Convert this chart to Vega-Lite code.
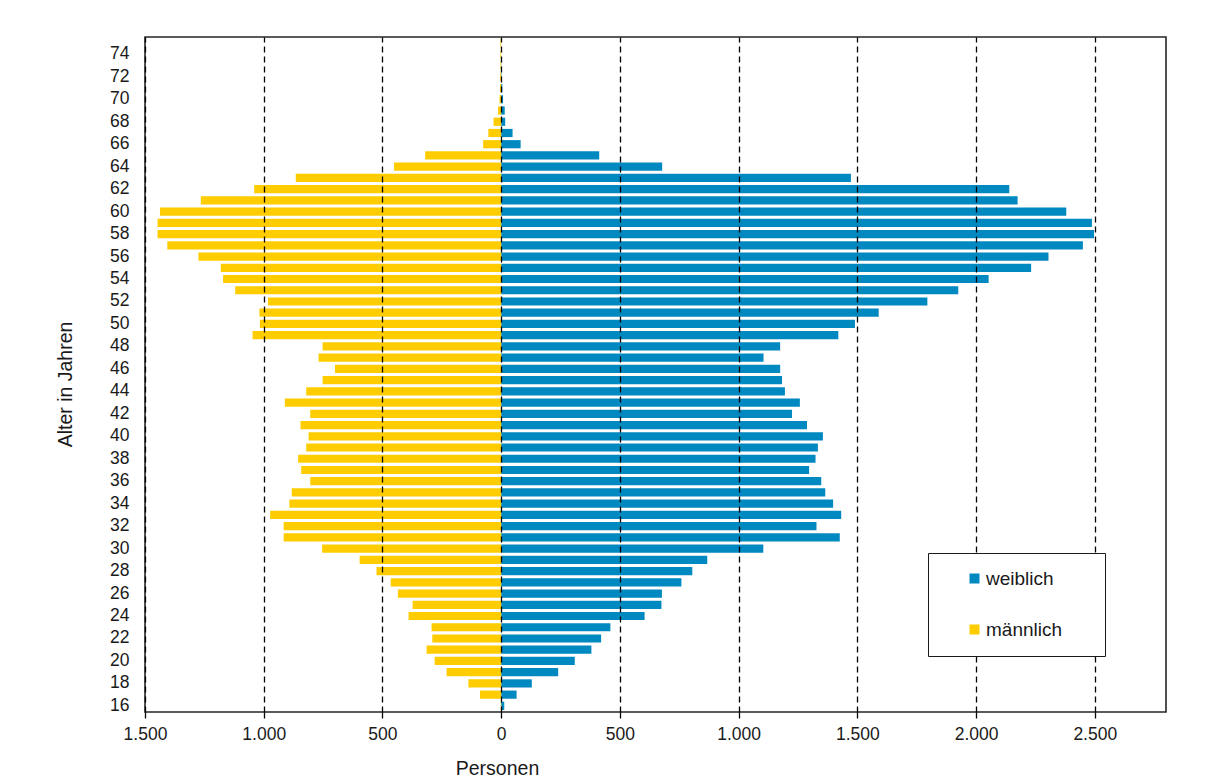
{
  "$schema": "https://vega.github.io/schema/vega-lite/v6.json",
  "width": 1021,
  "height": 675,
  "autosize": {"type": "none"},
  "padding": {"left": 145, "top": 37, "right": 51, "bottom": 70},
  "background": "white",
  "data": {"values": [
    {"Alter": 16, "weiblich": 13, "männlich": -2},
    {"Alter": 17, "weiblich": 65, "männlich": -89},
    {"Alter": 18, "weiblich": 129, "männlich": -138},
    {"Alter": 19, "weiblich": 240, "männlich": -230},
    {"Alter": 20, "weiblich": 310, "männlich": -280},
    {"Alter": 21, "weiblich": 380, "männlich": -314},
    {"Alter": 22, "weiblich": 421, "männlich": -290},
    {"Alter": 23, "weiblich": 460, "männlich": -293},
    {"Alter": 24, "weiblich": 604, "männlich": -390},
    {"Alter": 25, "weiblich": 675, "männlich": -373},
    {"Alter": 26, "weiblich": 677, "männlich": -435},
    {"Alter": 27, "weiblich": 759, "männlich": -465},
    {"Alter": 28, "weiblich": 805, "männlich": -525},
    {"Alter": 29, "weiblich": 868, "männlich": -596},
    {"Alter": 30, "weiblich": 1104, "männlich": -754},
    {"Alter": 31, "weiblich": 1426, "männlich": -916},
    {"Alter": 32, "weiblich": 1328, "männlich": -916},
    {"Alter": 33, "weiblich": 1432, "männlich": -973},
    {"Alter": 34, "weiblich": 1398, "männlich": -892},
    {"Alter": 35, "weiblich": 1365, "männlich": -882},
    {"Alter": 36, "weiblich": 1348, "männlich": -804},
    {"Alter": 37, "weiblich": 1297, "männlich": -842},
    {"Alter": 38, "weiblich": 1324, "männlich": -855},
    {"Alter": 39, "weiblich": 1334, "männlich": -821},
    {"Alter": 40, "weiblich": 1355, "männlich": -811},
    {"Alter": 41, "weiblich": 1288, "männlich": -845},
    {"Alter": 42, "weiblich": 1225, "männlich": -804},
    {"Alter": 43, "weiblich": 1258, "männlich": -911},
    {"Alter": 44, "weiblich": 1195, "männlich": -821},
    {"Alter": 45, "weiblich": 1183, "männlich": -752},
    {"Alter": 46, "weiblich": 1175, "männlich": -700},
    {"Alter": 47, "weiblich": 1105, "männlich": -769},
    {"Alter": 48, "weiblich": 1175, "männlich": -752},
    {"Alter": 49, "weiblich": 1420, "männlich": -1047},
    {"Alter": 50, "weiblich": 1490, "männlich": -1016},
    {"Alter": 51, "weiblich": 1590, "männlich": -1018},
    {"Alter": 52, "weiblich": 1795, "männlich": -982},
    {"Alter": 53, "weiblich": 1925, "männlich": -1120},
    {"Alter": 54, "weiblich": 2053, "männlich": -1171},
    {"Alter": 55, "weiblich": 2232, "männlich": -1181},
    {"Alter": 56, "weiblich": 2305, "männlich": -1275},
    {"Alter": 57, "weiblich": 2450, "männlich": -1406},
    {"Alter": 58, "weiblich": 2497, "männlich": -1447},
    {"Alter": 59, "weiblich": 2488, "männlich": -1447},
    {"Alter": 60, "weiblich": 2380, "männlich": -1437},
    {"Alter": 61, "weiblich": 2175, "männlich": -1265},
    {"Alter": 62, "weiblich": 2140, "männlich": -1040},
    {"Alter": 63, "weiblich": 1473, "männlich": -865},
    {"Alter": 64, "weiblich": 678, "männlich": -451},
    {"Alter": 65, "weiblich": 413, "männlich": -320},
    {"Alter": 66, "weiblich": 82, "männlich": -76},
    {"Alter": 67, "weiblich": 48, "männlich": -54},
    {"Alter": 68, "weiblich": 17, "männlich": -32},
    {"Alter": 69, "weiblich": 15, "männlich": -13},
    {"Alter": 70, "weiblich": 8, "männlich": -7},
    {"Alter": 71, "weiblich": 5, "männlich": -5},
    {"Alter": 72, "weiblich": 2, "männlich": -4},
    {"Alter": 73, "weiblich": 1, "männlich": -3},
    {"Alter": 74, "weiblich": 0, "männlich": -3},
    {"Alter": 75, "weiblich": 0, "männlich": -3}
  ]},
  "transform": [{"fold": ["weiblich", "männlich"], "as": ["Geschlecht", "Personen"]}],
  "mark": {"type": "bar"},
  "encoding": {
    "y": {
      "field": "Alter",
      "type": "ordinal",
      "sort": "descending",
      "scale": {"paddingInner": 0.27, "paddingOuter": 0.18},
      "axis": {
        "title": "Alter in Jahren",
        "labelExpr": "datum.value % 2 == 0 ? datum.label : ''",
        "ticks": false,
        "tickSize": 0,
        "domain": false,
        "grid": false,
        "labelPadding": 16,
        "labelFontSize": 17.5,
        "labelColor": "#1a1a1a",
        "labelFont": "Liberation Sans",
        "titleFont": "Liberation Sans",
        "titleFontSize": 19.5,
        "titleFontWeight": "normal",
        "titleColor": "#1a1a1a",
        "titleX": -80,
        "titleY": 347,
        "titleAngle": -90,
        "titleBaseline": "middle",
        "titleAlign": "center"
      }
    },
    "x": {
      "field": "Personen",
      "type": "quantitative",
      "stack": null,
      "scale": {"domain": [-1500, 2800], "nice": false, "zero": false},
      "axis": {
        "title": "Personen",
        "values": [-1500, -1000, -500, 0, 500, 1000, 1500, 2000, 2500],
        "labelExpr": "replace(format(abs(datum.value), ','), ',', '.')",
        "grid": true,
        "gridColor": "#000000",
        "gridDash": [6, 4],
        "gridWidth": 1.3,
        "gridOpacity": 1,
        "domain": false,
        "tickColor": "#000000",
        "tickSize": 6,
        "tickWidth": 1.3,
        "labelPadding": 7,
        "labelFlush": false,
        "labelOverlap": false,
        "labelFontSize": 17.5,
        "labelColor": "#1a1a1a",
        "labelFont": "Liberation Sans",
        "titleFont": "Liberation Sans",
        "titleFontSize": 19.5,
        "titleFontWeight": "normal",
        "titleColor": "#1a1a1a",
        "titleX": 352,
        "titleY": 56,
        "titleBaseline": "middle",
        "titleAlign": "center",
        "zindex": 1
      }
    },
    "color": {
      "field": "Geschlecht",
      "type": "nominal",
      "scale": {"domain": ["weiblich", "männlich"], "range": ["#0088C1", "#FFCC00"]},
      "legend": {
        "title": null,
        "orient": "none",
        "legendX": 783,
        "legendY": 516,
        "padding": 16,
        "rowPadding": 31,
        "symbolType": "square",
        "symbolSize": 100,
        "symbolOffset": 21,
        "symbolStrokeWidth": 0,
        "labelOffset": 2,
        "labelFontSize": 19,
        "labelFont": "Liberation Sans",
        "labelColor": "#1a1a1a",
        "strokeColor": "#1a1a1a",
        "fillColor": "white",
        "zindex": 2,
        "labelExpr": "datum.label + '\u00a0\u00a0\u00a0\u00a0\u00a0\u200b'"
      }
    }
  },
  "config": {
    "font": "Liberation Sans",
    "view": {"stroke": "#262626", "strokeWidth": 1.6}
  }
}
